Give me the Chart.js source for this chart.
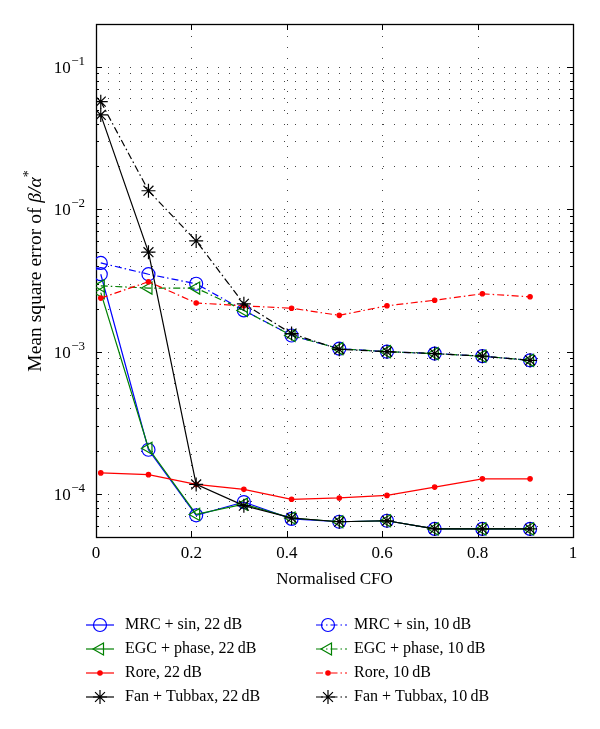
<!DOCTYPE html>
<html><head><meta charset="utf-8">
<script src="https://cdn.jsdelivr.net/npm/chart.js@4/dist/chart.umd.min.js"></script>
<style>html,body{margin:0;padding:0;background:#fff}#wrap{width:600px;height:729px;position:relative}</style>
</head><body><div id="wrap"><canvas id="c"></canvas></div>
<script>
// ---- data ----
const cfo = [0.01, 0.11, 0.21, 0.31, 0.41, 0.51, 0.61, 0.71, 0.81, 0.91];
const mrcSin22   = [0.0035, 0.000205, 0.000071, 0.000088, 0.000067, 0.000064, 0.000065, 0.000057, 0.000057, 0.000057];
const egcPhase22 = [0.0026, 0.00021, 0.000072, 0.000085, 0.000068, 0.000064, 0.000065, 0.000057, 0.000057, 0.000057];
const rore22     = [0.000141, 0.000137, 0.000117, 0.000108, 0.000092, 0.000094, 0.000098, 0.000112, 0.000128, 0.000128];
const fanTub22   = [0.046, 0.0050, 0.000117, 0.000083, 0.000068, 0.000064, 0.000065, 0.000057, 0.000057, 0.000057];
const mrcSin10   = [0.0042, 0.0035, 0.0030, 0.00195, 0.0013, 0.00105, 0.0010, 0.00097, 0.00093, 0.00087];
const egcPhase10 = [0.0029, 0.0028, 0.0028, 0.00195, 0.0013, 0.00105, 0.0010, 0.00097, 0.00093, 0.00087];
const rore10     = [0.00238, 0.0031, 0.0022, 0.0021, 0.00202, 0.0018, 0.0021, 0.0023, 0.00255, 0.00243];
const fanTub10   = [0.057, 0.0135, 0.0060, 0.00217, 0.00134, 0.00104, 0.0010, 0.00097, 0.00093, 0.00087];
const seriesNames = ['MRC + sin, 22\u2009dB', 'EGC + phase, 22\u2009dB', 'Rore, 22\u2009dB', 'Fan + Tubbax, 22\u2009dB',
                     'MRC + sin, 10\u2009dB', 'EGC + phase, 10\u2009dB', 'Rore, 10\u2009dB', 'Fan + Tubbax, 10\u2009dB'];
const xTickValues = [0, 0.2, 0.4, 0.6, 0.8, 1];
const yDecadeExponents = [-4, -3, -2, -1];
const yMin = 5e-5, yMax = 0.2;
const xTitle = 'Normalised CFO';

// ---- styles ----
const FONT = '"Liberation Serif", "DejaVu Serif", serif';
const BLUE = '#0000ff', GREEN = '#008000', RED = '#ff0000', BLACK = '#000000';
const DASHDOT = [7, 3, 1.5, 3];
const styles = [
  {color: BLUE,  dash: [],      ps: 'circle',   r: 6.5, rot: 0,   fill: false, order: 3},
  {color: GREEN, dash: [],      ps: 'triangle', r: 7,   rot: -90, fill: false, order: 2},
  {color: RED,   dash: [],      ps: 'circle',   r: 2.2, rot: 0,   fill: true,  order: 1},
  {color: BLACK, dash: [],      ps: 'star',     r: 7,   rot: 0,   fill: false, order: 0},
  {color: BLUE,  dash: DASHDOT, ps: 'circle',   r: 6.5, rot: 0,   fill: false, order: 3},
  {color: GREEN, dash: DASHDOT, ps: 'triangle', r: 7,   rot: -90, fill: false, order: 2},
  {color: RED,   dash: DASHDOT, ps: 'circle',   r: 2.2, rot: 0,   fill: true,  order: 1},
  {color: BLACK, dash: DASHDOT, ps: 'star',     r: 7,   rot: 0,   fill: false, order: 0}
];
const seriesValues = [mrcSin22, egcPhase22, rore22, fanTub22, mrcSin10, egcPhase10, rore10, fanTub10];

const datasets = seriesValues.map((vals, i) => {
  const s = styles[i];
  const bg = s.fill ? s.color : 'rgba(0,0,0,0)';
  return {
    label: seriesNames[i],
    data: cfo.map((x, k) => ({x: x, y: vals[k]})),
    borderColor: s.color, backgroundColor: bg, borderWidth: 1.2, borderDash: s.dash,
    pointStyle: s.ps, pointRadius: s.r, pointRotation: s.rot,
    pointBorderColor: s.color, pointBackgroundColor: bg, pointBorderWidth: 1.2,
    pointHoverRadius: s.r, tension: 0, order: s.order, fill: false
  };
});

function isDecade(v) { const l = Math.log10(v); return Math.abs(l - Math.round(l)) < 1e-9; }

const framePlugin = {
  id: 'frame',
  beforeDatasetsDraw(chart) {
    const {ctx, chartArea: a, scales: {x, y}} = chart;
    ctx.save();
    // dotted grid
    ctx.strokeStyle = '#444'; ctx.lineWidth = 1; ctx.setLineDash([1, 10]);
    ctx.beginPath();
    y.ticks.forEach(t => {
      const py = Math.round(y.getPixelForValue(t.value)) + 0.5;
      if (py <= a.top + 1 || py >= a.bottom - 1) return;
      ctx.moveTo(a.left + 1, py); ctx.lineTo(a.right, py);
    });
    x.ticks.forEach(t => {
      const px = Math.round(x.getPixelForValue(t.value)) + 0.5;
      if (px <= a.left + 1 || px >= a.right - 1) return;
      ctx.moveTo(px, a.top + 1); ctx.lineTo(px, a.bottom);
    });
    ctx.stroke();
    ctx.setLineDash([]);
    // inner tick marks
    ctx.strokeStyle = '#000';
    ctx.beginPath();
    y.ticks.forEach(t => {
      const py = Math.round(y.getPixelForValue(t.value)) + 0.5;
      const L = isDecade(t.value) ? 6 : 3;
      ctx.moveTo(a.left, py); ctx.lineTo(a.left + L, py);
      ctx.moveTo(a.right, py); ctx.lineTo(a.right - L, py);
    });
    x.ticks.forEach(t => {
      const px = Math.round(x.getPixelForValue(t.value)) + 0.5;
      ctx.moveTo(px, a.bottom); ctx.lineTo(px, a.bottom - 6);
      ctx.moveTo(px, a.top); ctx.lineTo(px, a.top + 6);
    });
    ctx.stroke();
    ctx.lineWidth = 1.3;
    ctx.strokeRect(Math.round(a.left) + 0.5, Math.round(a.top) + 0.5,
                   Math.round(a.right - a.left), Math.round(a.bottom - a.top));
    ctx.restore();
  },
  afterDraw(chart) {
    const {ctx, scales: {y}} = chart;
    ctx.save();
    ctx.fillStyle = '#000';
    // y tick labels with superscript exponents
    yDecadeExponents.forEach(e => {
      const py = y.getPixelForValue(Math.pow(10, e));
      const sup = '\u2212' + Math.abs(e);
      ctx.font = '13px ' + FONT; const sw = ctx.measureText(sup).width;
      ctx.font = '17px ' + FONT; const bw = ctx.measureText('10').width;
      const right = 85;
      ctx.textBaseline = 'alphabetic'; ctx.textAlign = 'left';
      ctx.fillText('10', right - sw - bw - 0.5, py + 6);
      ctx.font = '13px ' + FONT;
      ctx.fillText(sup, right - sw, py - 2);
    });
    // y axis title
    ctx.save();
    ctx.translate(41, 271);
    ctx.rotate(-Math.PI / 2);
    const parts = [
      {t: 'Mean square error of ', f: '19.5px ' + FONT, dy: 0},
      {t: '\u03B2/\u03B1', f: 'italic 19.5px ' + FONT, dy: 0},
      {t: '*', f: '14px ' + FONT, dy: -8}
    ];
    let tot = 0;
    parts.forEach(p => { ctx.font = p.f; p.w = ctx.measureText(p.t).width; tot += p.w; });
    let cx = -tot / 2;
    ctx.textAlign = 'left'; ctx.textBaseline = 'alphabetic';
    parts.forEach(p => { ctx.font = p.f; ctx.fillText(p.t, cx, p.dy); cx += p.w; });
    ctx.restore();
    // legend
    const cols = [{x0: 86, x1: 114, mx: 100, tx: 125}, {x0: 316, x1: 347, mx: 328, tx: 354}];
    const rows = [625, 649, 673, 697];
    chart.data.datasets.forEach((ds, i) => {
      const c = cols[Math.floor(i / 4)], yy = rows[i % 4];
      ctx.save();
      ctx.strokeStyle = ds.borderColor; ctx.lineWidth = 1.2;
      ctx.setLineDash(ds.borderDash);
      ctx.beginPath(); ctx.moveTo(c.x0, yy); ctx.lineTo(c.x1, yy); ctx.stroke();
      ctx.setLineDash([]);
      ctx.fillStyle = ds.pointBackgroundColor; ctx.strokeStyle = ds.pointBorderColor; ctx.lineWidth = 1.2;
      Chart.helpers.drawPoint(ctx, {pointStyle: ds.pointStyle, rotation: ds.pointRotation,
        radius: ds.pointRadius, borderWidth: 1.2}, c.mx, yy);
      ctx.restore();
      ctx.fillStyle = '#000'; ctx.font = '16px ' + FONT;
      ctx.textAlign = 'left'; ctx.textBaseline = 'middle';
      ctx.fillText(ds.label, c.tx, yy);
    });
    ctx.restore();
  }
};

new Chart(document.getElementById('c'), {
  type: 'line',
  data: {datasets: datasets},
  options: {
    responsive: true, maintainAspectRatio: false, animation: false,
    layout: {padding: {left: 96, right: 27, top: 24, bottom: 139.2}},
    plugins: {legend: {display: false}, tooltip: {enabled: false}},
    scales: {
      x: {
        type: 'linear', min: 0, max: 1,
        afterBuildTicks: s => { s.ticks = xTickValues.map(v => ({value: v})); },
        ticks: {font: {family: FONT, size: 17}, color: '#000', padding: 6, maxRotation: 0,
                callback: v => String(v)},
        grid: {display: false, drawTicks: false}, border: {display: false},
        title: {display: true, text: xTitle, font: {family: FONT, size: 17}, color: '#000', padding: {top: 0, bottom: 0}}
      },
      y: {
        type: 'logarithmic', min: yMin, max: yMax,
        afterBuildTicks: s => {
          const t = [];
          for (let e = -5; e <= -1; e++) for (let m = 1; m <= 9; m++) {
            const v = m * Math.pow(10, e);
            if (v >= yMin * 0.999 && v <= yMax * 1.001) t.push({value: v});
          }
          s.ticks = t;
        },
        ticks: {display: false},
        grid: {display: false, drawTicks: false}, border: {display: false}
      }
    }
  },
  plugins: [framePlugin]
});
</script>
</body></html>
